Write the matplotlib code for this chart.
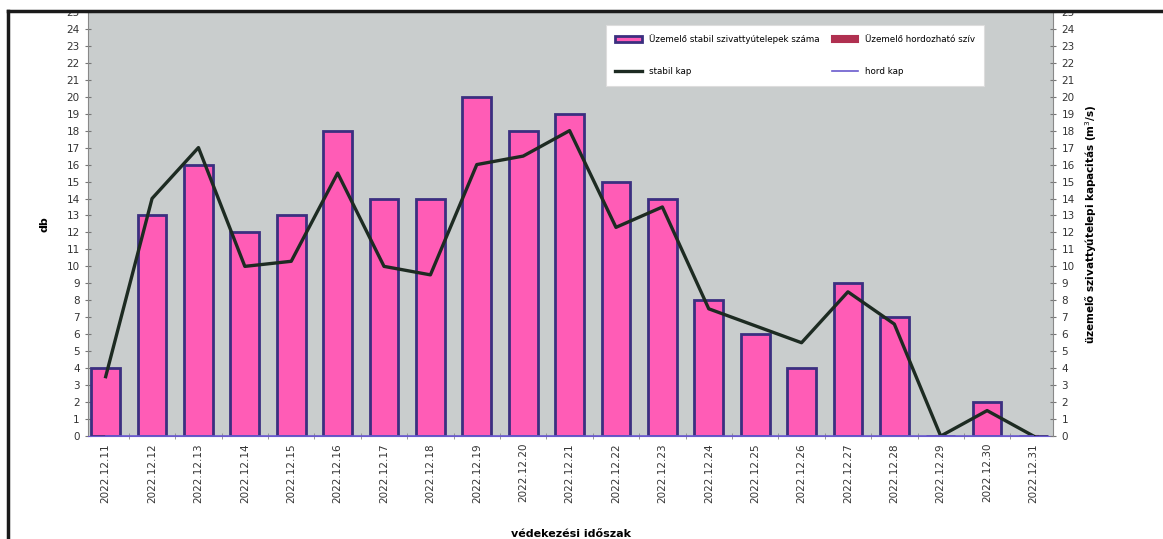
import numpy as np
import matplotlib.pyplot as plt
from matplotlib.lines import Line2D
from matplotlib.patches import Rectangle

# adatok
napok = ['2022.12.11', '2022.12.12', '2022.12.13', '2022.12.14', '2022.12.15',
         '2022.12.16', '2022.12.17', '2022.12.18', '2022.12.19', '2022.12.20',
         '2022.12.21', '2022.12.22', '2022.12.23', '2022.12.24', '2022.12.25',
         '2022.12.26', '2022.12.27', '2022.12.28', '2022.12.29', '2022.12.30',
         '2022.12.31']
stabil_db = [4, 13, 16, 12, 13, 18, 14, 14, 20, 18, 19, 15, 14, 8, 6, 4, 9, 7, 0, 2, 0]
hord_db = [0] * 21
stabil_kap = [3.5, 14, 17, 10, 10.3, 15.5, 10, 9.5, 16, 16.5, 18, 12.3, 13.5,
              7.5, 6.5, 5.5, 8.5, 6.6, 0, 1.5, 0]
hord_kap = [0] * 21

x = np.arange(len(napok))

fig = plt.figure(figsize=(11.63, 5.39), dpi=100)
ax = fig.add_axes([0.0757, 0.191, 0.8297, 0.787])
ax.set_facecolor('#c9cdcd')

ax.bar(x, stabil_db, width=0.62, color='#ff5cb6', edgecolor='#3b2f80',
       linewidth=2.0, zorder=2, label='Üzemelő stabil szivattyútelepek száma')
ax.bar(x, hord_db, width=0.25, color='#b03050', edgecolor='#b03050',
       linewidth=1.5, zorder=1, label='Üzemelő hordozható szív')

ax2 = ax.twinx()
ax2.plot(x, stabil_kap, color='#1d2b22', linewidth=2.4, zorder=3, label='stabil kap')
ax2.plot(x, hord_kap, color='#6a5acd', linewidth=1.2, zorder=3, label='hord kap')

for a in (ax, ax2):
    a.set_ylim(0, 25)
    a.set_yticks(range(26))
    a.tick_params(axis='y', direction='inout', length=5, labelsize=7.5,
                  labelcolor='#333333', color='#777777')
    for s in a.spines.values():
        s.set_visible(False)
ax.set_xlim(-0.38, 20.42)
ax.spines['left'].set_visible(True)
ax.spines['left'].set_color('#888888')
ax2.spines['right'].set_visible(True)
ax2.spines['right'].set_color('#888888')
ax.spines['bottom'].set_visible(True)
ax.spines['bottom'].set_color('#6a5acd')

ax.set_xticks(x)
ax.set_xticklabels(napok, rotation=90, fontsize=7.5, color='#333333')
ax.tick_params(axis='x', length=0, pad=5)
ax.set_xticks(x[:-1] + 0.5, minor=True)
ax.tick_params(axis='x', which='minor', direction='inout', length=5, color='#888888')

ax.set_ylabel('db', fontsize=8, fontweight='bold', labelpad=12)
ax2.set_ylabel('üzemelő szivattyútelepi kapacitás (m$^3$/s)', fontsize=7.5,
               fontweight='bold', labelpad=6)
ax.set_xlabel('védekezési időszak', fontsize=8, fontweight='bold', labelpad=19)

h1, l1 = ax.get_legend_handles_labels()
h2, l2 = ax2.get_legend_handles_labels()
handles = [h1[0], h2[0], h1[1], h2[1]]
labels = [l1[0], l2[0], l1[1], l2[1]]
leg = ax2.legend(handles, labels, ncol=2, fontsize=6.3, frameon=True,
                 loc='upper left', bbox_to_anchor=(0.532, 0.98),
                 labelspacing=2.6, columnspacing=1.4, handlelength=3,
                 borderpad=1.1, fancybox=False)
leg.get_frame().set_facecolor('white')
leg.get_frame().set_alpha(1)
leg.get_frame().set_edgecolor('#dddddd')
leg.get_frame().set_linewidth(0.8)

# keret
fig.patches.append(Rectangle((0, 1 - 11 / 539), 1, 11 / 539, transform=fig.transFigure,
                             facecolor='white', edgecolor='none', zorder=10))
fig.add_artist(Line2D([8 / 1163, 1], [1 - 11 / 539, 1 - 11 / 539], color='#1a1a1a',
                      linewidth=2.5, transform=fig.transFigure, zorder=11))
fig.add_artist(Line2D([8 / 1163, 8 / 1163], [0, 1 - 11 / 539], color='#1a1a1a',
                      linewidth=2.5, transform=fig.transFigure, zorder=11))

fig.savefig('out.png', dpi=100)
